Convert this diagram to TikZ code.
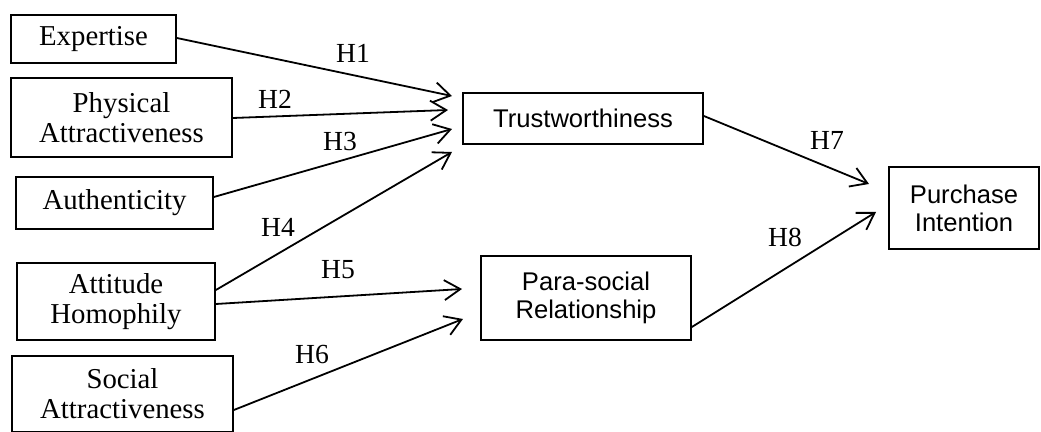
\documentclass[tikz,border=0pt]{standalone}
\usepackage{fontspec}
\setmainfont{Liberation Serif}
\setsansfont{Liberation Sans}
\usepackage{tikz}
\usetikzlibrary{positioning, arrows.meta, calc}

\begin{document}
\begin{tikzpicture}[
    x=0.5pt, y=-0.5pt,
    factor/.style={draw=black, line width=0.9pt, inner sep=0pt, align=center, font=\fontsize{14.4}{15}\selectfont},
    mediator/.style={draw=black, line width=0.9pt, inner sep=0pt, align=center, font=\sffamily\fontsize{12.8}{14}\selectfont},
    arr/.style={-{Straight Barb[length=8pt, width=10pt, line width=0.9pt]}, line width=0.9pt},
    hyp/.style={font=\fontsize{13.8}{15}\selectfont, inner sep=0pt}
]
\useasboundingbox (0,0) rectangle (1041,432);

% Antecedents
\node[factor, minimum width=82.5pt, minimum height=24pt] (expertise) at (93.5,39) {Expertise};
\node[factor, minimum width=110.5pt, minimum height=39.5pt] (physical) at (121.5,117.5) {Physical\\Attractiveness};
\node[factor, minimum width=98.5pt, minimum height=26pt] (authentic) at (114.5,203) {Authenticity};
\node[factor, minimum width=99pt, minimum height=38.5pt] (attitude) at (116,301.5) {Attitude\\Homophily};
\node[factor, minimum width=110.5pt, minimum height=38pt] (social) at (122.5,394) {Social\\Attractiveness};

% Mediators and outcome
\node[mediator, minimum width=120pt, minimum height=25.5pt] (trust) at (583,118.5) {Trustworthiness};
\node[mediator, minimum width=105pt, minimum height=42pt] (parasocial) at (586,298) {Para-social\\Relationship};
\node[mediator, minimum width=75pt, minimum height=41pt] (purchase) at (964,208) {Purchase\\Intention};

% Arrow ends
\coordinate (t1) at (452,96);
\coordinate (t2) at (448,110);
\coordinate (t3) at (452,129);
\coordinate (t4) at (452,152);
\coordinate (p5) at (462,289);
\coordinate (p6) at (463,319);
\coordinate (i7) at (869,184);
\coordinate (i8) at (876,212);

\draw[arr] ($(expertise.east)+(0,-1)$) -- (t1);
\draw[arr] ($(physical.east)+(0,0.5)$) -- (t2);
\draw[arr] ($(authentic.east)+(0,-6)$) -- (t3);
\draw[arr] ($(attitude.east)+(0,-11.5)$) -- (t4);
\draw[arr] ($(attitude.east)+(0,2.5)$) -- (p5);
\draw[arr] ($(social.east)+(0,16)$) -- (p6);
\draw[arr] ($(trust.east)+(0,-2.5)$) -- (i7);
\draw[arr] ($(parasocial.east)+(0,29)$) -- (i8);

% Hypotheses
\node[hyp] (h1) at (353,53) {H1};
\node[hyp] (h2) at (275,99) {H2};
\node[hyp] (h3) at (340,142) {H3};
\node[hyp] (h4) at (278,227) {H4};
\node[hyp] (h5) at (338,270) {H5};
\node[hyp] (h6) at (312,355) {H6};
\node[hyp] (h7) at (827,140) {H7};
\node[hyp] (h8) at (785,237) {H8};

\end{tikzpicture}
\end{document}
